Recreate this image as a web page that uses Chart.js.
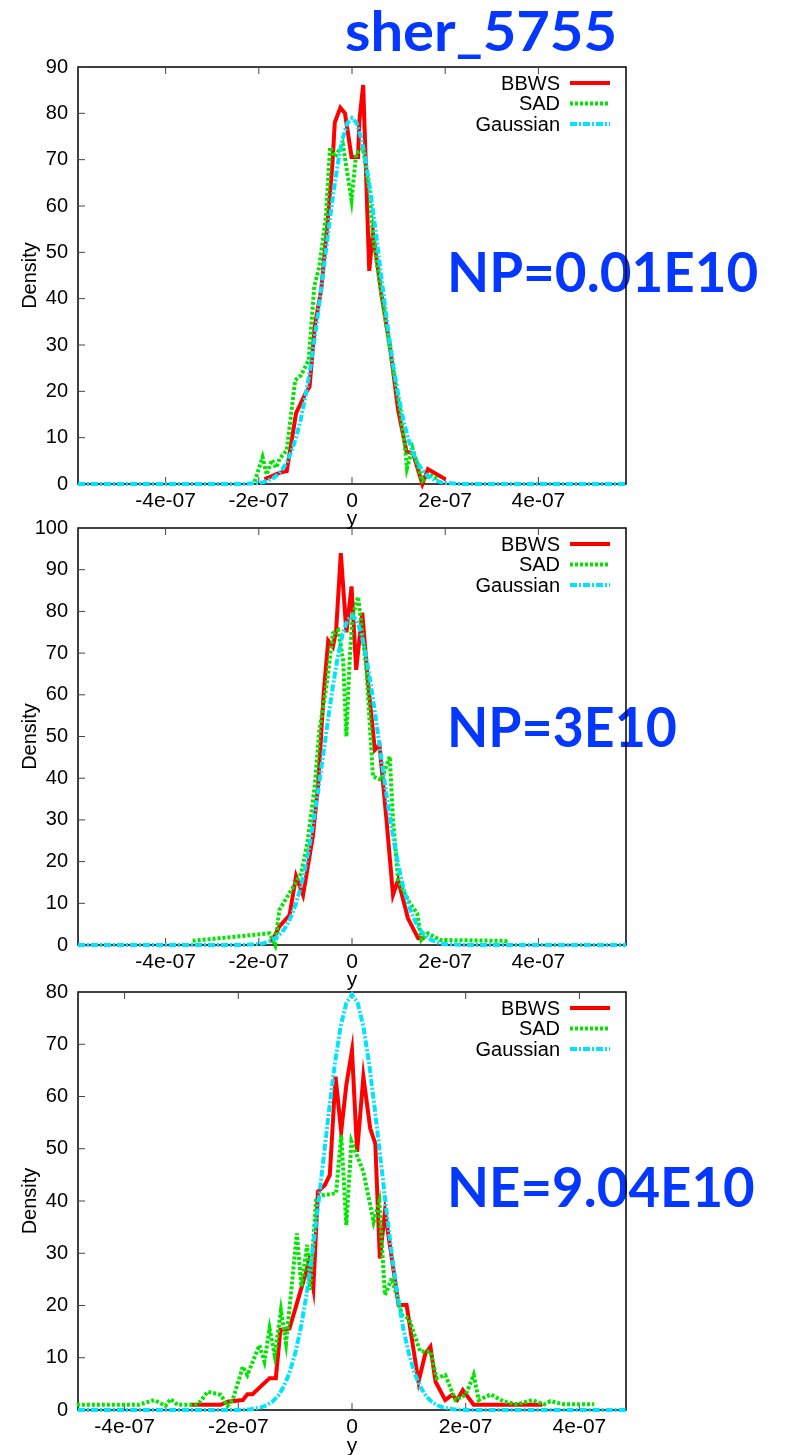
<!DOCTYPE html>
<html>
<head>
<meta charset="utf-8">
<title>sher_5755</title>
<script src="https://cdn.jsdelivr.net/npm/chart.js@4.4.1/dist/chart.umd.min.js"></script>
<style>
    body { margin: 0; background: #fff; }
    #page { position: relative; width: 785px; height: 1455px; overflow: hidden; }
    .big {
        position: absolute;
        font-family: Lato, "Open Sans", sans-serif;
        font-weight: 700;
        font-size: 56px;
        line-height: 1;
        color: #0437ff;
        white-space: nowrap;
        transform-origin: 0 0;
    }
    canvas { position: absolute; left: 0; }
</style>
</head>
<body>
<div id="page">
    <div class="big" data-w="272" style="left:345px; top:2px;">sher_5755</div>
    <div class="big" data-w="311" style="left:447px; top:243px;">NP=0.01E10</div>
    <div class="big" data-w="230" style="left:447px; top:698px;">NP=3E10</div>
    <div class="big" data-w="308" style="left:447px; top:1158px;">NE=9.04E10</div>

    <canvas id="chart1" style="top:0px;"></canvas>
    <canvas id="chart2" style="top:500px;"></canvas>
    <canvas id="chart3" style="top:965px;"></canvas>
</div>
<script>
// x values are in units of 1e-07
const X_TICKS = [-4, -2, 0, 2, 4];
const LABELS = ["BBWS", "SAD", "Gaussian"];

// ---- panel 1 (NP=0.01E10)
const p1BbwsX = [-1.88, -1.56, -1.40, -1.20, -1.00, -0.91, -0.80, -0.66, -0.52, -0.42, -0.37, -0.25, -0.15, -0.01, 0.13, 0.16, 0.24, 0.37, 0.45, 0.63, 0.81, 0.99, 1.17, 1.31, 1.51, 1.63, 2.01];
const p1BbwsY = [1.0, 2.4, 2.8, 15.3, 19.5, 21, 34, 42, 57, 69, 78, 81.2, 80, 70.6, 70.6, 78.6, 86.1, 46, 54.5, 41, 30, 16, 7, 6.6, 0, 3.2, 1.0];
const p1SadX = [-2.09, -1.92, -1.83, -1.72, -1.63, -1.55, -1.40, -1.22, -1.09, -0.93, -0.81, -0.70, -0.56, -0.47, -0.36, -0.20, -0.01, 0.09, 0.24, 0.38, 0.45, 0.63, 0.85, 1.03, 1.13, 1.18, 1.30, 1.41, 1.51, 1.67, 1.85];
const p1SadY = [0.5, 5.8, 2, 5.2, 3.5, 5.5, 7.3, 22.4, 23.5, 26.8, 42.6, 47, 57.7, 72.7, 70.6, 73.5, 61.3, 71.4, 72.4, 62.7, 53.4, 41, 26.8, 16, 8.8, 3.4, 7.7, 4, 0.7, 2, 1];

// ---- panel 2 (NP=3E10)
const p2BbwsX = [-1.73, -1.56, -1.34, -1.20, -1.05, -0.84, -0.73, -0.61, -0.51, -0.41, -0.34, -0.24, -0.12, -0.01, 0.09, 0.22, 0.34, 0.49, 0.59, 0.74, 0.88, 0.99, 1.20, 1.42, 1.56];
const p2BbwsY = [0.6, 4.4, 7.2, 16.5, 12, 26, 38, 60, 73, 71.5, 75.5, 94, 75, 86, 66, 79.7, 63.5, 46.8, 48, 30, 12, 15.6, 6.4, 1.6, 1.6];
const p2SadX = [-3.42, -1.77, -1.65, -1.56, -1.30, -1.09, -0.95, -0.80, -0.70, -0.55, -0.41, -0.30, -0.19, -0.12, -0.05, 0.01, 0.13, 0.20, 0.31, 0.45, 0.63, 0.81, 0.88, 0.99, 1.24, 1.40, 1.49, 1.63, 1.89, 3.29, 3.35];
const p2SadY = [1, 2.8, 0, 8.4, 13.2, 17.2, 25, 38, 51.5, 62, 74.7, 75.5, 68.3, 50, 68.3, 78.7, 83.5, 77, 66, 40.4, 39.6, 45.2, 30, 15.6, 10, 7.6, 1.2, 2.8, 1.2, 1, 0];

// Gaussian used in panels 1 and 2
const gaussAX = [-5.88, -2.4, -2.2, -2.0, -1.9, -1.8, -1.7, -1.6, -1.5, -1.4, -1.3, -1.2, -1.1, -1.0, -0.9, -0.8, -0.7, -0.6, -0.5, -0.4, -0.3, -0.2, -0.1, 0, 0.1, 0.2, 0.3, 0.4, 0.5, 0.6, 0.7, 0.8, 0.9, 1.0, 1.1, 1.2, 1.3, 1.4, 1.5, 1.6, 1.7, 1.8, 1.9, 2.0, 2.2, 2.4, 5.88];
const gaussAY = [0, 0, 0.1, 0.2, 0.4, 0.8, 1.2, 2.0, 3.1, 4.7, 7.0, 10.0, 13.9, 18.8, 24.7, 31.5, 39.1, 47.1, 55.2, 62.8, 69.4, 74.6, 77.9, 79.0, 77.9, 74.6, 69.4, 62.8, 55.2, 47.1, 39.1, 31.5, 24.7, 18.8, 13.9, 10.0, 7.0, 4.7, 3.1, 2.0, 1.2, 0.8, 0.4, 0.2, 0.1, 0, 0];

// ---- panel 3 (NE=9.04E10)
const p3BbwsX = [-2.84, -2.31, -2.19, -1.92, -1.84, -1.75, -1.45, -1.34, -1.26, -1.10, -0.84, -0.76, -0.68, -0.60, -0.48, -0.39, -0.29, -0.19, -0.10, 0.0, 0.09, 0.20, 0.32, 0.41, 0.49, 0.58, 0.82, 0.96, 1.17, 1.29, 1.38, 1.47, 1.64, 1.76, 1.85, 1.95, 2.14, 3.35];
const p3BbwsY = [1, 1, 1.6, 1.9, 3, 3, 6.1, 6.1, 15.3, 15.6, 25.2, 28.4, 23.3, 41.8, 43, 45, 63.8, 53.3, 62.2, 68.8, 49.4, 63.8, 53.9, 51, 29, 38, 20.1, 20.1, 5.4, 10.8, 12.1, 5.4, 1.9, 2.9, 1.9, 3.8, 1, 1];
const p3SadX = [-4.84, -3.75, -3.48, -3.28, -3.19, -3.07, -2.75, -2.66, -2.54, -2.31, -2.19, -2.10, -1.92, -1.84, -1.63, -1.54, -1.45, -1.36, -1.25, -1.16, -0.97, -0.89, -0.79, -0.74, -0.63, -0.51, -0.28, -0.19, -0.10, -0.01, 0.20, 0.38, 0.48, 0.58, 0.70, 0.88, 1.0, 1.2, 1.38, 1.49, 1.64, 1.82, 2.0, 2.14, 2.23, 2.44, 2.67, 2.91, 3.17, 3.38, 3.49, 3.73, 4.26];
const p3SadY = [1, 1, 1.9, 0.8, 2.1, 1, 1, 1.7, 3.5, 2.9, 0.8, 1.9, 8.3, 6.7, 12.4, 9.3, 15.6, 10.5, 19.1, 12.8, 33.8, 23.6, 31.6, 23, 40.5, 41.1, 41.5, 52.6, 35.4, 51.4, 45.6, 36, 39.9, 22, 25.2, 18.2, 17.5, 11.2, 11.2, 6.1, 6.7, 1.9, 2.9, 6.7, 1.9, 3, 1.6, 1.1, 1.9, 1.1, 1.7, 1.1, 1.1];
const gaussBX = [-4.82, -2.0, -1.8, -1.7, -1.6, -1.5, -1.4, -1.3, -1.2, -1.1, -1.0, -0.9, -0.8, -0.7, -0.6, -0.5, -0.4, -0.3, -0.2, -0.1, 0, 0.1, 0.2, 0.3, 0.4, 0.5, 0.6, 0.7, 0.8, 0.9, 1.0, 1.1, 1.2, 1.3, 1.4, 1.5, 1.6, 1.7, 1.8, 2.0, 4.82];
const gaussBY = [0, 0, 0.1, 0.3, 0.5, 0.9, 1.6, 2.7, 4.5, 7.1, 10.8, 15.7, 22.1, 29.8, 38.7, 48.2, 57.7, 66.4, 73.4, 77.9, 79.5, 77.9, 73.4, 66.4, 57.7, 48.2, 38.7, 29.8, 22.1, 15.7, 10.8, 7.1, 4.5, 2.7, 1.6, 0.9, 0.5, 0.3, 0.1, 0, 0];

Chart.defaults.font.family = "'Liberation Sans', Arial, sans-serif";
Chart.defaults.font.size = 20;
Chart.defaults.color = "#000";
Chart.defaults.animation = false;

const zip = (xs, ys) => xs.map((x, i) => ({ x: x, y: ys[i] }));

const framePlugin = {
    id: "gnuFrame",
    beforeDatasetsDraw(chart) {
        const { ctx, chartArea: a } = chart;
        const x = chart.scales.x;
        const y = chart.scales.y;
        ctx.save();
        ctx.strokeStyle = "#000";
        ctx.lineWidth = 1.5;
        ctx.strokeRect(a.left, a.top, a.right - a.left, a.bottom - a.top);
        ctx.strokeStyle = "#444";
        ctx.lineWidth = 1;
        ctx.beginPath();
        y.ticks.forEach((t) => {
            const py = y.getPixelForValue(t.value);
            ctx.moveTo(a.left, py);
            ctx.lineTo(a.left + 7, py);
        });
        x.ticks.forEach((t) => {
            const px = x.getPixelForValue(t.value);
            ctx.moveTo(px, a.bottom);
            ctx.lineTo(px, a.bottom - 7);
            ctx.moveTo(px, a.top);
            ctx.lineTo(px, a.top + 7);
        });
        ctx.stroke();
        ctx.restore();
    },
    afterDatasetsDraw(chart) {
        // gnuplot style key: text right aligned, sample on the right
        const { ctx, chartArea: a } = chart;
        ctx.save();
        ctx.font = "20px 'Liberation Sans', Arial, sans-serif";
        ctx.textAlign = "right";
        ctx.textBaseline = "middle";
        chart.data.datasets.forEach((ds, i) => {
            const rowY = a.top + 16 + i * 20.5;
            ctx.fillStyle = "#000";
            ctx.fillText(ds.label, a.right - 66, rowY + 1);
            ctx.strokeStyle = ds.borderColor;
            ctx.lineWidth = ds.borderWidth;
            ctx.setLineDash(ds.borderDash || []);
            ctx.beginPath();
            ctx.moveTo(a.right - 56, rowY);
            ctx.lineTo(a.right - 16, rowY);
            ctx.stroke();
        });
        ctx.restore();
    },
};

const makeChart = (id, height, plotTop, plotBottom, xMax, yMax, titlePad, bbws, sad, gauss) => {
    const canvas = document.getElementById(id);
    canvas.width = 785;
    canvas.height = height;
    canvas.style.width = "785px";
    canvas.style.height = height + "px";

    return new Chart(canvas, {
        type: "line",
        data: {
            datasets: [
                {
                    label: LABELS[0],
                    data: bbws,
                    borderColor: "#ff0000",
                    borderWidth: 4,
                    order: 3,
                },
                {
                    label: LABELS[1],
                    data: sad,
                    borderColor: "#00e600",
                    borderWidth: 4,
                    borderDash: [3, 2],
                    order: 2,
                },
                {
                    label: LABELS[2],
                    data: gauss,
                    borderColor: "#00e5ff",
                    borderWidth: 4,
                    borderDash: [7, 2, 2, 2],
                    order: 1,
                },
            ],
        },
        options: {
            responsive: false,
            devicePixelRatio: 1,
            layout: {
                padding: { top: plotTop, right: 785 - 626, left: 0, bottom: 0 },
            },
            elements: {
                point: { radius: 0 },
                line: { tension: 0, borderJoinStyle: "miter", borderCapStyle: "butt", fill: false },
            },
            datasets: { line: { clip: 6 } },
            plugins: {
                legend: { display: false },
                tooltip: { enabled: false },
            },
            scales: {
                x: {
                    type: "linear",
                    min: -xMax,
                    max: xMax,
                    grid: { display: false, drawTicks: false },
                    border: { display: false },
                    afterBuildTicks: (scale) => {
                        scale.ticks = X_TICKS.map((v) => ({ value: v }));
                    },
                    afterFit: (scale) => {
                        scale.height = height - plotBottom;
                    },
                    ticks: {
                        maxRotation: 0,
                        autoSkip: false,
                        padding: 5,
                        font: { size: 21 },
                        callback: (v) => (v === 0 ? "0" : v + "e-07"),
                    },
                    title: {
                        display: true,
                        text: "y",
                        font: { size: 21 },
                        padding: { top: 0, bottom: titlePad },
                    },
                },
                y: {
                    min: 0,
                    max: yMax,
                    grid: { display: false, drawTicks: false },
                    border: { display: false },
                    afterFit: (scale) => {
                        scale.width = 78;
                    },
                    ticks: {
                        stepSize: 10,
                        padding: 10,
                    },
                    title: {
                        display: true,
                        text: "Density",
                        padding: { top: 18, bottom: 0 },
                    },
                },
            },
        },
        plugins: [framePlugin],
    });
};

makeChart("chart1", 535, 67, 484, 5.88, 90, 3,
    zip(p1BbwsX, p1BbwsY), zip(p1SadX, p1SadY), zip(gaussAX, gaussAY));
makeChart("chart2", 500, 28, 445, 5.88, 100, 7,
    zip(p2BbwsX, p2BbwsY), zip(p2SadX, p2SadY), zip(gaussAX, gaussAY));
makeChart("chart3", 494, 27, 445, 4.82, 80, 0,
    zip(p3BbwsX, p3BbwsY), zip(p3SadX, p3SadY), zip(gaussBX, gaussBY));

// squeeze the big blue labels to the widths seen in the picture
document.querySelectorAll(".big").forEach((el) => {
    const w = +el.dataset.w;
    el.style.transform = `scaleX(${w / el.offsetWidth})`;
});
</script>
</body>
</html>
